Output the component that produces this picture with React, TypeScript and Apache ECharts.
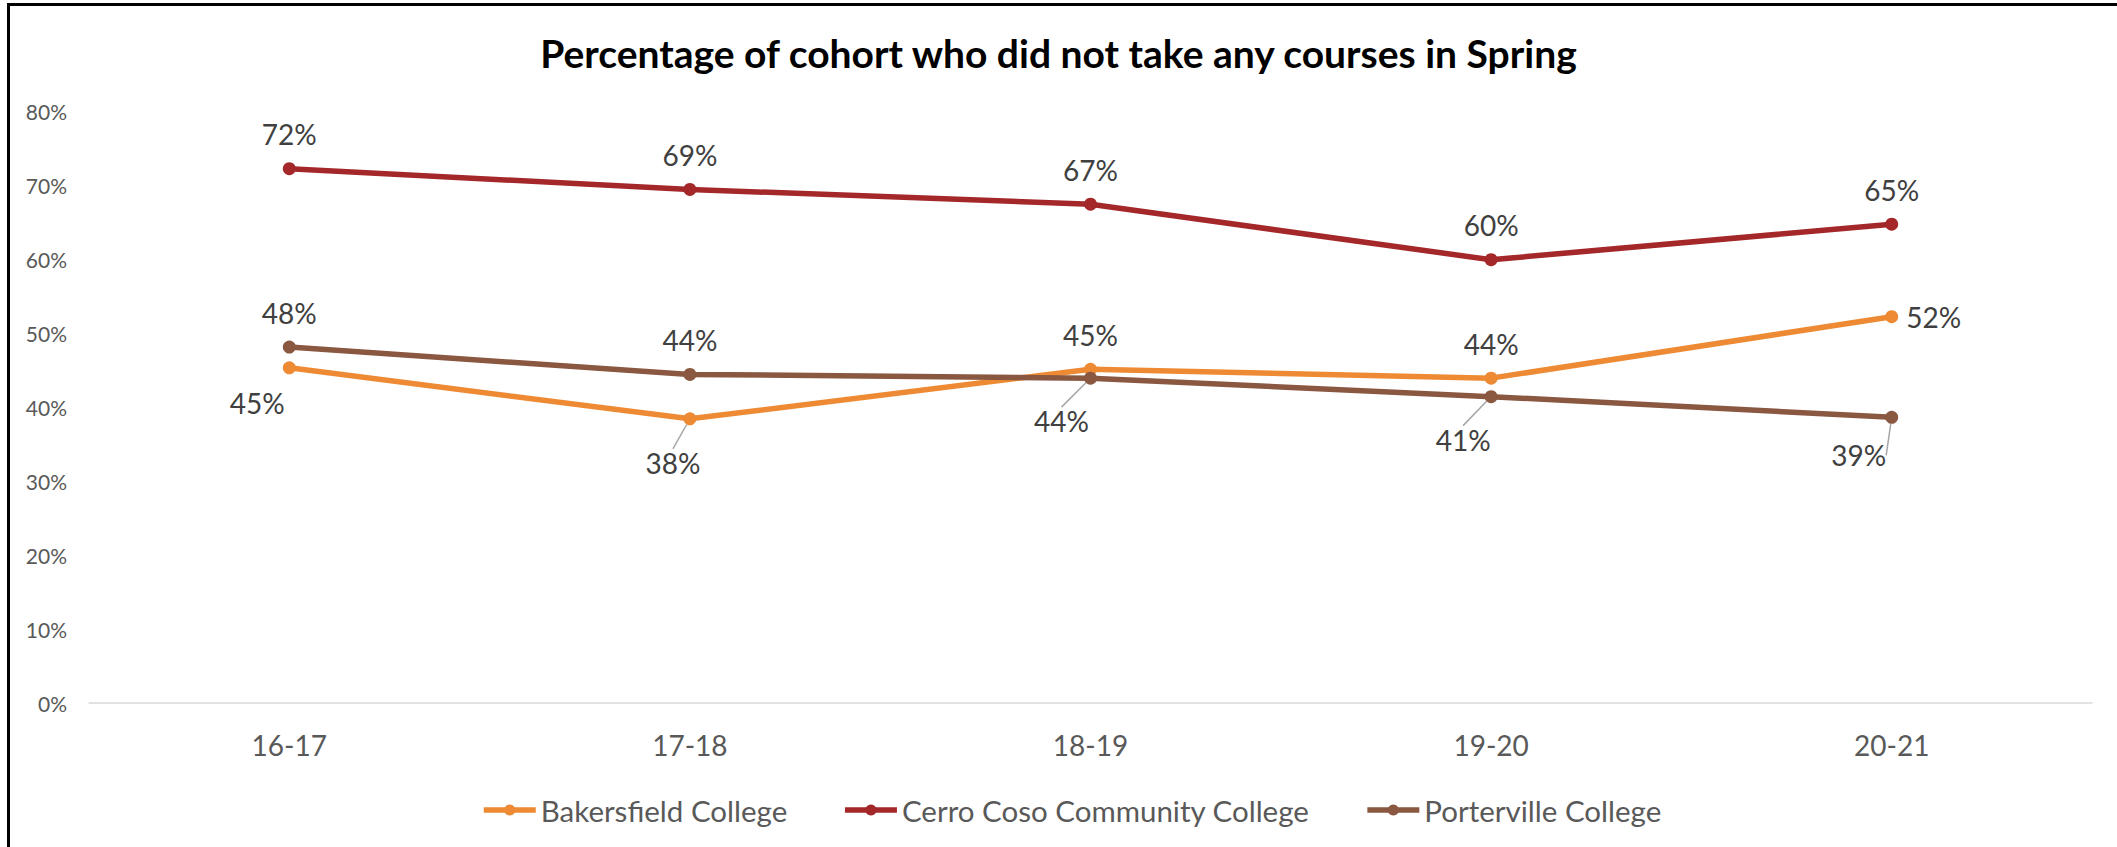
import React, { useEffect, useRef } from "react";
import * as echarts from "echarts";

const titleText = "Percentage of cohort who did not take any courses in Spring";
const categories = ["16-17", "17-18", "18-19", "19-20", "20-21"];
const seriesNames = ["Bakersfield College", "Cerro Coso Community College", "Porterville College"];
const bakersfield = [0.453, 0.384, 0.451, 0.439, 0.522];
const cerroCoso = [0.722, 0.694, 0.674, 0.599, 0.647];
const porterville = [0.481, 0.444, 0.439, 0.414, 0.386];
const yMin = 0;
const yMax = 0.8;
const yStep = 0.1;

const FONT = "Lato, 'Noto Sans', sans-serif";
const colors = ["#EE8A33", "#A4282A", "#8A5740"];

type Placement = { kind: "top" | "right" | "move"; dx?: number; dy?: number; line?: boolean };
const T: Placement = { kind: "top" };
const bakersfieldLabels: Placement[] = [
  { kind: "move", dx: -32, dy: 35, line: false },
  { kind: "move", dx: -17, dy: 44, line: true },
  T,
  T,
  { kind: "right" },
];
const cerroLabels: Placement[] = [T, T, T, T, T];
const portervilleLabels: Placement[] = [
  T,
  T,
  { kind: "move", dx: -29, dy: 43, line: true },
  { kind: "move", dx: -28, dy: 43, line: true },
  { kind: "move", dx: -33, dy: 38, line: true },
];

const pct = (v: number) => Math.round(v * 100) + "%";

function makeSeries(name: string, values: number[], color: string, placements: Placement[]) {
  return {
    type: "line",
    name,
    data: values.map((v, i) => {
      const pl = placements[i];
      const item: any = { value: v };
      if (pl.kind === "right") item.label = { position: "right", distance: 8 };
      else if (pl.kind === "move") {
        item.label = { position: "inside" };
        item.labelLine = { show: !!pl.line };
      }
      return item;
    }),
    symbol: "circle",
    symbolSize: 13,
    lineStyle: { color, width: 5.5 },
    itemStyle: { color },
    label: {
      show: true,
      position: "top",
      distance: 14,
      formatter: (p: any) => pct(p.value),
      fontSize: 28,
      color: "#404040",
      fontFamily: FONT,
    },
    labelLine: { show: false, lineStyle: { color: "#A6A6A6", width: 1.5 } },
    labelLayout: (params: any) => {
      const pl = placements[params.dataIndex];
      if (pl && pl.kind === "move") return { dx: pl.dx, dy: pl.dy };
      return {};
    },
    emphasis: { disabled: true },
  };
}

export default function App() {
  const ref = useRef<HTMLDivElement>(null);
  useEffect(() => {
    const chart = echarts.init(ref.current!, null, { renderer: "svg" });
    const option: any = {
      animation: false,
      backgroundColor: "#ffffff",
      title: {
        text: titleText,
        left: "center",
        top: 33,
        padding: 0,
        textStyle: { fontSize: 39, fontWeight: "bold", color: "#000000", fontFamily: FONT },
      },
      legend: {
        data: seriesNames,
        left: 476,
        top: 790,
        itemWidth: 52,
        itemHeight: 14,
        itemGap: 55,
        lineStyle: { width: 5.5 },
        textStyle: { fontSize: 29.5, color: "#595959", fontFamily: FONT },
      },
      grid: { left: 89, right: 25, top: 111, bottom: 144, containLabel: false },
      xAxis: {
        type: "category",
        data: categories,
        boundaryGap: true,
        axisLine: { lineStyle: { color: "#D9D9D9", width: 1.5 } },
        axisTick: { show: false },
        axisLabel: { fontSize: 28, color: "#595959", margin: 28, fontFamily: FONT },
      },
      yAxis: {
        type: "value",
        min: yMin,
        max: yMax,
        interval: yStep,
        axisLine: { show: false },
        axisTick: { show: false },
        splitLine: { show: false },
        axisLabel: { formatter: (v: number) => pct(v), fontSize: 21, color: "#595959", margin: 22, fontFamily: FONT },
      },
      graphic: [
        {
          type: "rect",
          silent: true,
          z: 100,
          shape: { x: 8.5, y: 4.5, width: 2300, height: 1000 },
          style: { fill: "none", stroke: "#000000", lineWidth: 3 },
        },
      ],
      series: [
        makeSeries(seriesNames[0], bakersfield, colors[0], bakersfieldLabels),
        makeSeries(seriesNames[1], cerroCoso, colors[1], cerroLabels),
        makeSeries(seriesNames[2], porterville, colors[2], portervilleLabels),
      ],
    };
    chart.setOption(option);
    return () => chart.dispose();
  }, []);
  return (
    <div
      ref={ref}
      style={{ position: "fixed", left: 0, top: 0, width: 2117, height: 847, background: "#fff" }}
    />
  );
}
